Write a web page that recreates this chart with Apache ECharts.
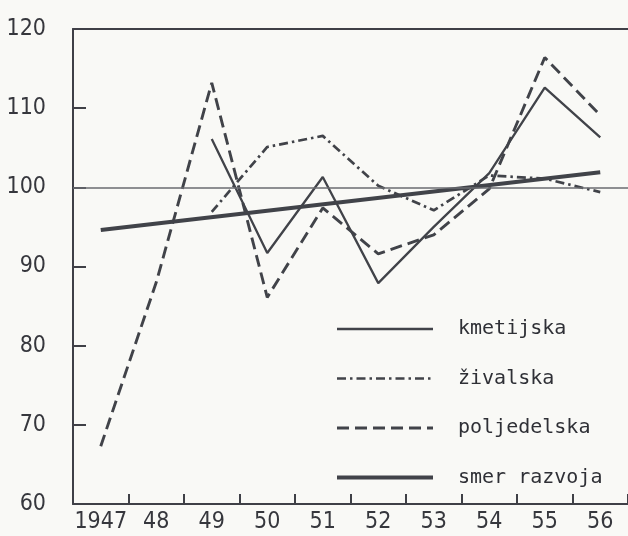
<!DOCTYPE html>
<html>
<head>
<meta charset="utf-8">
<script src="https://cdn.jsdelivr.net/npm/echarts@6/dist/echarts.min.js"></script>
<style>
  html, body { margin: 0; padding: 0; background: #f9f9f6; }
  #chart { width: 628px; height: 536px; }
</style>
</head>
<body>
<div id="chart"></div>
<script>
// Years on the horizontal axis
const years = ['1947', '48', '49', '50', '51', '52', '53', '54', '55', '56'];

// Index values per year (null = no value for that year)
const kmetijska   = [null, null, 106.1, 91.7, 101.3, 87.9, 95.0, 101.8, 112.6, 106.3];
const zivalska    = [null, null, 96.9, 105.1, 106.5, 100.2, 97.1, 101.5, 101.1, 99.4];
const poljedelska = [67.3, 88.0, 113.2, 86.1, 97.4, 91.6, 94.0, 99.8, 116.4, 109.1];
// Trend line: first and last year only, joined straight
const smerRazvoja = [94.6, null, null, null, null, null, null, null, null, 101.9];

// Vertical axis range
const yMin = 60, yMax = 120, yStep = 10;
const baseLine = 100;

const ink = '#414349';
const chart = echarts.init(document.getElementById('chart'), null, { renderer: 'canvas' });

const labelFont = {
  fontFamily: "'DejaVu Sans Condensed', 'DejaVu Sans Mono', sans-serif",
  fontSize: 23,
  color: '#36373d'
};

// Line styles shared by each series and its legend sample
const styles = {
  kmetijska:   { color: ink, width: 2.3, type: 'solid' },
  zivalska:    { color: ink, width: 2.7, type: [9, 4, 2.5, 4] },
  poljedelska: { color: ink, width: 2.9, type: [12, 6] },
  smer:        { color: ink, width: 4, type: 'solid' }
};

chart.setOption({
  backgroundColor: '#f9f9f6',
  animation: false,
  grid: { left: 73, top: 29, width: 560, bottom: 32 },
  xAxis: [
    {
      type: 'category',
      data: years,
      boundaryGap: true,
      axisLine: { lineStyle: { color: '#3f4047', width: 2 } },
      axisTick: { show: true, inside: true, length: 10, interval: 0, lineStyle: { color: '#3f4047', width: 2 } },
      axisLabel: Object.assign({ margin: 7, interval: 0 }, labelFont),
      splitLine: { show: false }
    },
    {
      type: 'category',
      data: years,
      position: 'top',
      axisLine: { lineStyle: { color: '#3f4047', width: 2 } },
      axisTick: { show: false },
      axisLabel: { show: false },
      splitLine: { show: false }
    }
  ],
  yAxis: {
    type: 'value',
    min: yMin, max: yMax, interval: yStep,
    axisLine: { show: true, lineStyle: { color: '#3f4047', width: 2 } },
    axisTick: { show: true, inside: true, length: 13, lineStyle: { color: '#3f4047', width: 2 } },
    axisLabel: Object.assign({ margin: 27 }, labelFont),
    splitLine: { show: false }
  },
  legend: {
    orient: 'vertical',
    left: 330,
    top: 314,
    itemWidth: 96,
    itemHeight: 14,
    itemGap: 29.5,
    selectedMode: false,
    itemStyle: { opacity: 0 },
    textStyle: {
      fontFamily: "'DejaVu Sans Mono', monospace",
      fontSize: 20,
      color: '#2f3036',
      padding: [0, 0, 0, 20]
    },
    data: [
      { name: 'kmetijska', lineStyle: styles.kmetijska },
      { name: 'živalska', lineStyle: styles.zivalska },
      { name: 'poljedelska', lineStyle: styles.poljedelska },
      { name: 'smer razvoja', lineStyle: styles.smer }
    ]
  },
  series: [
    {
      name: 'kmetijska',
      type: 'line',
      data: kmetijska,
      symbol: 'none',
      lineStyle: styles.kmetijska,
      itemStyle: { color: ink },
      markLine: {
        silent: true,
        symbol: 'none',
        label: { show: false },
        lineStyle: { color: '#6a6b70', width: 1.6, type: 'solid' },
        data: [{ yAxis: baseLine }]
      },
      z: 3
    },
    {
      name: 'živalska',
      type: 'line',
      data: zivalska,
      symbol: 'none',
      lineStyle: styles.zivalska,
      itemStyle: { color: ink },
      z: 3
    },
    {
      name: 'poljedelska',
      type: 'line',
      data: poljedelska,
      symbol: 'none',
      lineStyle: styles.poljedelska,
      itemStyle: { color: ink },
      z: 3
    },
    {
      name: 'smer razvoja',
      type: 'line',
      data: smerRazvoja,
      connectNulls: true,
      symbol: 'none',
      lineStyle: styles.smer,
      itemStyle: { color: ink },
      z: 4
    }
  ]
});
</script>
</body>
</html>
